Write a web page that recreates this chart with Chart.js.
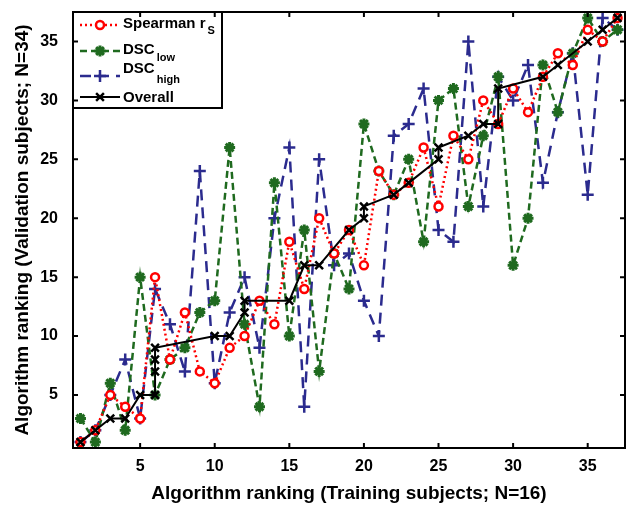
<!DOCTYPE html>
<html>
<head>
<meta charset="utf-8">
<script src="https://cdn.jsdelivr.net/npm/chart.js@4.4.1/dist/chart.umd.min.js"></script>
<style>
  html, body { margin: 0; padding: 0; background: #fff; }
  #wrap { width: 627px; height: 505px; }
</style>
</head>
<body>
<div id="wrap"><canvas id="rankChart"></canvas></div>
<script>
// Training rank (x) for the per-metric series
const trainRank = [1,2,3,4,5,6,7,8,9,10,11,12,13,14,15,16,17,18,19,20,21,22,23,24,25,26,27,28,29,30,31,32,33,34,35,36,37];

// Validation rank (y)
const spearmanRank = [1,2,5,4,3,15,8,12,7,6,9,10,13,11,18,14,20,17,19,16,24,22,23,26,21,27,25,30,28,31,29,32,34,33,36,35,37];
const dscLowRank   = [3,1,6,2,15,5,8,9,12,13,26,11,4,23,10,19,7,17,14,28,24,22,25,18,30,31,21,27,32,16,20,33,29,34,37,35,36];
const dscHighRank  = [1,2,5,8,3,14,11,7,24,6,12,15,9,20,26,4,25,16,17,13,10,27,28,31,19,18,35,21,32,30,33,23,29,34,22,37,36];

// Overall ranking has ties in the training rank
const overallTrain = [1,2,3,4,5,6,6,6,6,10,11,12,12,15,16,17,19,20,20,22,23,25,25,27,28,29,29,32,33,35,36,37];
const overallValid = [1,2,3,3,5,5,7,8,9,10,10,12,13,13,16,16,19,20,21,22,23,25,26,27,28,28,31,32,33,35,36,37];

const tickValues = [5, 10, 15, 20, 25, 30, 35];

const toPoints = (xs, ys) => xs.map((x, i) => ({ x: x, y: ys[i] }));

const FONT = "'Liberation Sans', Arial, Helvetica, sans-serif";

// Legend rows (offsets from the top of the plot box)
const legendRows = [
  { ds: 0, main: 'Spearman r', sub: 'S',    lineY: 13, baseY: 16, subY: 22 },
  { ds: 1, main: 'DSC',        sub: 'low',  lineY: 39, baseY: 42, subY: 49 },
  { ds: 2, main: 'DSC',        sub: 'high', lineY: 64, baseY: 61, subY: 71 },
  { ds: 3, main: 'Overall',    sub: '',     lineY: 85, baseY: 90, subY: 0 }
];

const drawMarker = (ctx, ds, x, y) => {
  ctx.save();
  ctx.setLineDash([]);
  ctx.strokeStyle = ds.pointBorderColor;
  ctx.fillStyle = ds.pointBackgroundColor;
  ctx.lineWidth = ds.pointBorderWidth;
  Chart.helpers.drawPoint(ctx, {
    pointStyle: ds.pointStyle,
    radius: ds.pointRadius,
    borderWidth: ds.pointBorderWidth,
    rotation: 0
  }, x, y);
  ctx.restore();
};

const legendBox = {
  id: 'legendBox',
  afterDatasetsDraw(chart) {
    const { ctx, chartArea } = chart;
    const x0 = chartArea.left, y0 = chartArea.top;
    ctx.save();
    ctx.fillStyle = '#fff';
    ctx.fillRect(x0, y0, 149, 96);
    ctx.strokeStyle = '#000';
    ctx.lineWidth = 2;
    ctx.strokeRect(x0, y0, 149, 96);

    legendRows.forEach(row => {
      const ds = chart.data.datasets[row.ds];
      const ly = y0 + row.lineY;
      ctx.save();
      ctx.strokeStyle = ds.borderColor;
      ctx.lineWidth = ds.borderWidth;
      ctx.setLineDash(ds.borderDash || []);
      ctx.beginPath();
      ctx.moveTo(x0 + 7, ly);
      ctx.lineTo(x0 + 47, ly);
      ctx.stroke();
      ctx.restore();
      drawMarker(ctx, ds, x0 + 27, ly);

      ctx.fillStyle = '#000';
      ctx.textBaseline = 'alphabetic';
      ctx.textAlign = 'left';
      ctx.font = 'bold 15px ' + FONT;
      ctx.fillText(row.main, x0 + 50, y0 + row.baseY);
      if (row.sub) {
        const w = ctx.measureText(row.main).width;
        ctx.font = 'bold 11px ' + FONT;
        ctx.fillText(row.sub, x0 + 50 + w + 2, y0 + row.subY);
      }
    });
    ctx.restore();
  }
};

// Box frame with inward tick marks on all four sides
const axesFrame = {
  id: 'axesFrame',
  afterDraw(chart) {
    const { ctx, chartArea, scales } = chart;
    const { left, right, top, bottom } = chartArea;
    const len = 5;
    ctx.save();
    ctx.strokeStyle = '#000';
    ctx.lineWidth = 2;
    ctx.beginPath();
    tickValues.forEach(v => {
      const px = scales.x.getPixelForValue(v);
      ctx.moveTo(px, bottom); ctx.lineTo(px, bottom - len);
      ctx.moveTo(px, top);    ctx.lineTo(px, top + len);
      const py = scales.y.getPixelForValue(v);
      ctx.moveTo(left, py);  ctx.lineTo(left + len, py);
      ctx.moveTo(right, py); ctx.lineTo(right - len, py);
    });
    ctx.stroke();
    ctx.strokeRect(left, top, right - left, bottom - top);
    ctx.restore();
  }
};

new Chart(document.getElementById('rankChart'), {
  type: 'scatter',
  data: {
    datasets: [
      {
        label: 'Spearman r_S',
        data: toPoints(trainRank, spearmanRank),
        showLine: true,
        borderColor: '#ff0000',
        borderWidth: 2.5,
        borderDash: [2, 3],
        pointStyle: 'circle',
        pointRadius: 4,
        pointBorderWidth: 2.5,
        pointBorderColor: '#ff0000',
        pointBackgroundColor: '#ffffff',
        clip: false,
        order: 2
      },
      {
        label: 'DSC_low',
        data: toPoints(trainRank, dscLowRank),
        showLine: true,
        borderColor: '#1f6a1f',
        borderWidth: 2.5,
        borderDash: [7, 4],
        pointStyle: 'star',
        pointRadius: 5.5,
        pointBorderWidth: 3,
        pointBorderColor: '#1f6a1f',
        pointBackgroundColor: '#1f6a1f',
        clip: false,
        order: 3
      },
      {
        label: 'DSC_high',
        data: toPoints(trainRank, dscHighRank),
        showLine: true,
        borderColor: '#2b2b8e',
        borderWidth: 2.5,
        borderDash: [11, 7],
        pointStyle: 'cross',
        pointRadius: 6,
        pointBorderWidth: 2.5,
        pointBorderColor: '#2b2b8e',
        pointBackgroundColor: '#2b2b8e',
        clip: false,
        order: 4
      },
      {
        label: 'Overall',
        data: toPoints(overallTrain, overallValid),
        showLine: true,
        borderColor: '#000000',
        borderWidth: 2,
        pointStyle: 'crossRot',
        pointRadius: 5.5,
        pointBorderWidth: 2.5,
        pointBorderColor: '#000000',
        pointBackgroundColor: '#000000',
        clip: false,
        order: 1
      }
    ]
  },
  options: {
    responsive: true,
    maintainAspectRatio: false,
    animation: false,
    events: [],
    layout: { autoPadding: false, padding: { top: 12, right: 2, left: 0, bottom: 0 } },
    plugins: {
      legend: { display: false },
      tooltip: { enabled: false }
    },
    scales: {
      x: {
        type: 'linear',
        min: 0.5,
        max: 37.5,
        grid: { display: false, drawTicks: false },
        border: { display: false },
        afterBuildTicks: scale => { scale.ticks = tickValues.map(v => ({ value: v })); },
        afterFit: scale => {
          scale.height = 57;
          scale.paddingLeft = 0;
          scale.paddingRight = 0;
        },
        ticks: {
          color: '#000',
          padding: 9,
          maxRotation: 0,
          font: { family: FONT, size: 16, weight: 'bold' }
        },
        title: {
          display: true,
          text: 'Algorithm ranking (Training subjects; N=16)',
          color: '#000',
          padding: { top: 0, bottom: 0 },
          font: { family: FONT, size: 19, weight: 'bold' }
        }
      },
      y: {
        type: 'linear',
        min: 0.5,
        max: 37.5,
        grid: { display: false, drawTicks: false },
        border: { display: false },
        afterBuildTicks: scale => { scale.ticks = tickValues.map(v => ({ value: v })); },
        afterFit: scale => {
          scale.width = 73;
          scale.paddingTop = 0;
          scale.paddingBottom = 0;
        },
        ticks: {
          color: '#000',
          padding: 15,
          font: { family: FONT, size: 16, weight: 'bold' }
        },
        title: {
          display: true,
          text: 'Algorithm ranking (Validation subjects; N=34)',
          color: '#000',
          padding: { top: 11, bottom: 0 },
          font: { family: FONT, size: 19, weight: 'bold' }
        }
      }
    }
  },
  plugins: [legendBox, axesFrame]
});
</script>
</body>
</html>
